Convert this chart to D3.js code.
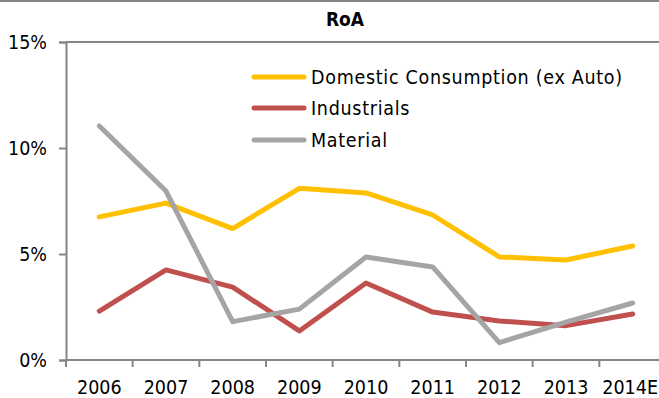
<!DOCTYPE html>
<html>
<head>
<meta charset="utf-8">
<script src="https://cdn.jsdelivr.net/npm/d3@7/dist/d3.min.js"></script>
<style>
  html, body { margin: 0; padding: 0; background: #fff; }
  svg { display: block; font-family: "DejaVu Sans Condensed", "DejaVu Sans", sans-serif; }
</style>
</head>
<body>
<svg id="chart" width="659" height="398"></svg>
<script>
// Return on assets by sector, 2006–2014E (%)
const years = ["2006", "2007", "2008", "2009", "2010", "2011", "2012", "2013", "2014E"];
const domestic = [6.75, 7.4, 6.2, 8.1, 7.88, 6.84, 4.86, 4.72, 5.38];
const industrials = [2.31, 4.25, 3.44, 1.37, 3.63, 2.26, 1.84, 1.62, 2.17];
const material = [11.04, 7.97, 1.81, 2.4, 4.86, 4.39, 0.82, 1.79, 2.69];
const yTicks = [0, 5, 10, 15];
const seriesNames = ["Domestic Consumption (ex Auto)", "Industrials", "Material"];
const seriesColors = ["#FFC000", "#C0504D", "#A5A5A5"];

const series = [domestic, industrials, material].map((values, i) => ({
  name: seriesNames[i], color: seriesColors[i], values
}));

const W = 659;
const svg = d3.select("#chart");
const axisColor = "#868686";
const fontFamily = "DejaVu Sans Condensed, DejaVu Sans, sans-serif";
const labelSize = 19.5;
const plot = { left: 66, right: 666, top: 42, bottom: 360 };

// frame line along the top edge
svg.append("line").attr("x1", 0).attr("x2", W).attr("y1", 1).attr("y2", 1)
  .attr("stroke", axisColor).attr("stroke-width", 2);

const x = d3.scaleBand().domain(years).range([plot.left, plot.right]);
const y = d3.scaleLinear().domain([0, 15]).range([plot.bottom, plot.top]);

// title
svg.append("text").attr("x", 345).attr("y", 26).attr("text-anchor", "middle")
  .attr("font-weight", "bold").attr("font-size", 19).attr("fill", "#000").text("RoA");

// plot-area top border
svg.append("line").attr("x1", plot.left).attr("x2", W).attr("y1", y(15)).attr("y2", y(15))
  .attr("stroke", axisColor).attr("stroke-width", 2);

// y axis
const yAxis = svg.append("g").attr("transform", `translate(${plot.left},0)`)
  .call(d3.axisLeft(y).tickValues(yTicks).tickFormat(d => d + "%").tickSize(7).tickPadding(12));
yAxis.select(".domain").attr("stroke", axisColor).attr("stroke-width", 2);
yAxis.selectAll(".tick line").attr("stroke", axisColor).attr("stroke-width", 2);
yAxis.selectAll(".tick text").attr("font-size", labelSize).attr("fill", "#000")
  .attr("font-family", fontFamily);

// x axis: ticks at category boundaries
const xAxis = svg.append("g").attr("transform", `translate(0,${plot.bottom})`);
xAxis.append("line").attr("x1", plot.left).attr("x2", W).attr("y1", 0).attr("y2", 0)
  .attr("stroke", axisColor).attr("stroke-width", 2);
xAxis.selectAll("line.tk").data(years).join("line").attr("class", "tk")
  .attr("x1", d => x(d)).attr("x2", d => x(d)).attr("y1", 0).attr("y2", 7)
  .attr("stroke", axisColor).attr("stroke-width", 2);
xAxis.selectAll("text").data(years).join("text")
  .attr("x", d => x(d) + x.bandwidth() / 2).attr("y", 34)
  .attr("text-anchor", "middle").attr("font-size", labelSize).attr("fill", "#000").text(d => d)
  .each(function () {
    // keep the last label inside the drawing
    const w = this.getComputedTextLength();
    const cx = +this.getAttribute("x");
    if (cx + w / 2 > W - 1) this.setAttribute("x", W - 1 - w / 2);
  });

// series lines
const line = d3.line()
  .x((d, i) => x(years[i]) + x.bandwidth() / 2)
  .y(d => y(d));

svg.selectAll("path.series").data(series).join("path").attr("class", "series")
  .attr("d", d => line(d.values))
  .attr("fill", "none").attr("stroke", d => d.color).attr("stroke-width", 5)
  .attr("stroke-linejoin", "round").attr("stroke-linecap", "round");

// legend
const legend = svg.append("g");
const legendY = [77, 108, 140];
series.forEach((s, i) => {
  legend.append("line").attr("x1", 254).attr("x2", 304)
    .attr("y1", legendY[i]).attr("y2", legendY[i])
    .attr("stroke", s.color).attr("stroke-width", 5).attr("stroke-linecap", "round");
  legend.append("text").attr("x", 311).attr("y", legendY[i] + 7)
    .attr("font-size", labelSize).attr("letter-spacing", 0.7)
    .attr("fill", "#000").text(s.name);
});
</script>
</body>
</html>
